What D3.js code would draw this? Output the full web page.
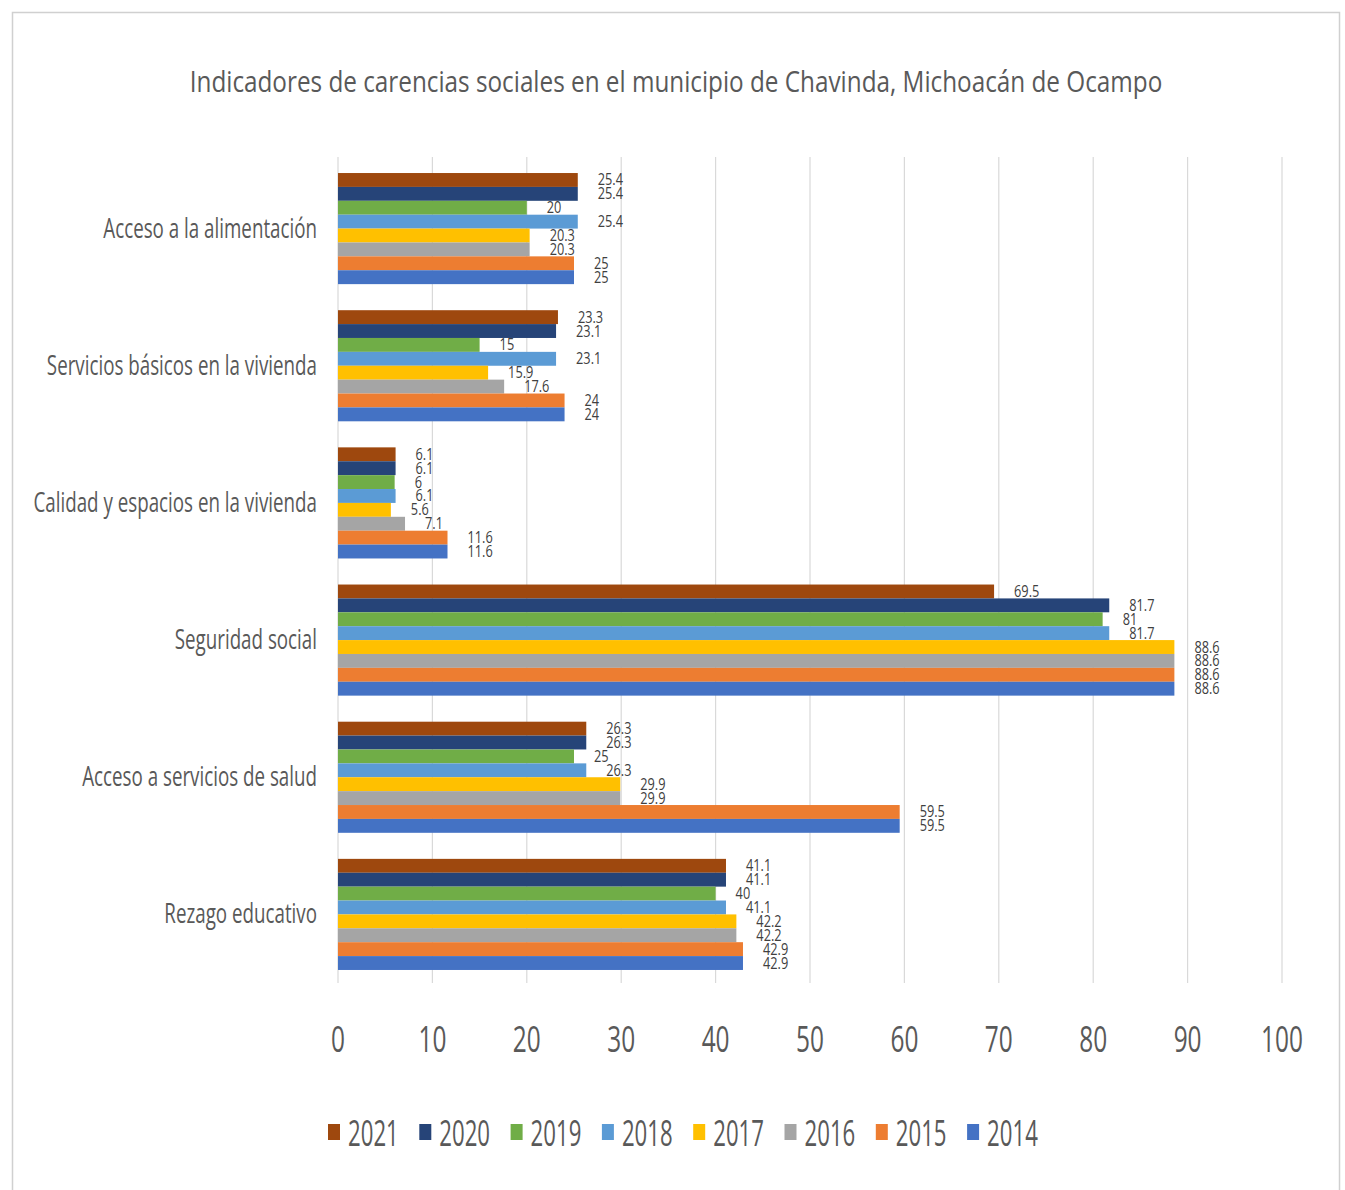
<!DOCTYPE html>
<html><head><meta charset="utf-8">
<script src="https://cdn.jsdelivr.net/npm/d3@7"></script>
<style>body{margin:0;background:#fff;} svg{display:block;}</style>
</head><body>
<script>
const title = "Indicadores de carencias sociales en el municipio de Chavinda, Michoacán de Ocampo";
const categories = ["Acceso a la alimentación","Servicios básicos en la vivienda","Calidad y espacios en la vivienda","Seguridad social","Acceso a servicios de salud","Rezago educativo"];
const years = ["2021","2020","2019","2018","2017","2016","2015","2014"];
const colors = ["#9E480E","#264478","#70AD47","#5B9BD5","#FFC000","#A5A5A5","#ED7D31","#4472C4"];
const v2021 = [25.4, 23.3, 6.1, 69.5, 26.3, 41.1];
const v2020 = [25.4, 23.1, 6.1, 81.7, 26.3, 41.1];
const v2019 = [20, 15, 6, 81, 25, 40];
const v2018 = [25.4, 23.1, 6.1, 81.7, 26.3, 41.1];
const v2017 = [20.3, 15.9, 5.6, 88.6, 29.9, 42.2];
const v2016 = [20.3, 17.6, 7.1, 88.6, 29.9, 42.2];
const v2015 = [25, 24, 11.6, 88.6, 59.5, 42.9];
const v2014 = [25, 24, 11.6, 88.6, 59.5, 42.9];
const xTicks = [0,10,20,30,40,50,60,70,80,90,100];

const seriesValues = [v2021,v2020,v2019,v2018,v2017,v2016,v2015,v2014];
const W = 1345, H = 1190;
const FONT = "'Open Sans', 'Noto Sans', sans-serif";
const SX = 0.67;

const svg = d3.select("body").append("svg").attr("width", W).attr("height", H);
svg.append("rect").attr("x",0).attr("y",0).attr("width",W).attr("height",H).attr("fill","#fff");
svg.append("rect").attr("x",12.5).attr("y",12.5).attr("width",1327).attr("height",1190)
  .attr("fill","#fff").attr("stroke","#d0d0d0").attr("stroke-width",1.5);

function txt(g, x, y, s, opts) {
  return g.append("text")
    .attr("transform", `translate(${x},${y}) scale(${opts.sx ?? SX},1)`)
    .attr("font-family", FONT)
    .attr("font-size", opts.size)
    .attr("fill", opts.fill || "#595959")
    .attr("text-anchor", opts.anchor || "start")
    .text(s);
}

// title
txt(svg, 676, 92, title, {size: 30, anchor: "middle", sx: 0.81});

const x = d3.scaleLinear().domain([0,100]).range([338,1282]);
const y = d3.scaleBand().domain(categories).range([160,983]).paddingInner(0.19).paddingOuter(0.095);
const yInner = d3.scaleBand().domain(years).range([0, y.bandwidth()]);

// gridlines
svg.append("g").selectAll("line").data(xTicks).join("line")
  .attr("x1", d=>x(d)).attr("x2", d=>x(d)).attr("y1",157).attr("y2",983)
  .attr("stroke","#d9d9d9").attr("stroke-width",1.2);

// bars
const groups = svg.append("g").selectAll("g").data(categories).join("g")
  .attr("transform", c => `translate(0,${y(c)})`);
groups.each(function(c, ci){
  const g = d3.select(this);
  years.forEach((yr, si) => {
    g.append("rect").attr("x", x(0)).attr("y", yInner(yr))
      .attr("width", x(seriesValues[si][ci]) - x(0)).attr("height", yInner.bandwidth())
      .attr("fill", colors[si]);
  });
});
// data labels
groups.each(function(c, ci){
  const g = d3.select(this);
  years.forEach((yr, si) => {
    const v = seriesValues[si][ci];
    txt(g, x(v) + 20, yInner(yr) + yInner.bandwidth()/2 + 5.5, String(v), {size: 17, fill:"#404040", sx: 0.75});
  });
});

// category labels
categories.forEach(c => {
  txt(svg, 317, y(c) + y.bandwidth()/2 + 9, c, {size: 28, anchor:"end"});
});

// x axis tick labels
xTicks.forEach(t => {
  txt(svg, x(t), 1052, String(t), {size: 37, anchor:"middle", sx: 0.66});
});

// legend
const legX0 = 328, legStep = 91.3;
years.forEach((yr, i) => {
  const lx = legX0 + i*legStep;
  svg.append("rect").attr("x", lx).attr("y", 1124).attr("width", 12).attr("height", 16).attr("fill", colors[i]);
  txt(svg, lx + 20, 1146, yr, {size: 37, sx: 0.6});
});
</script>
</body></html>
